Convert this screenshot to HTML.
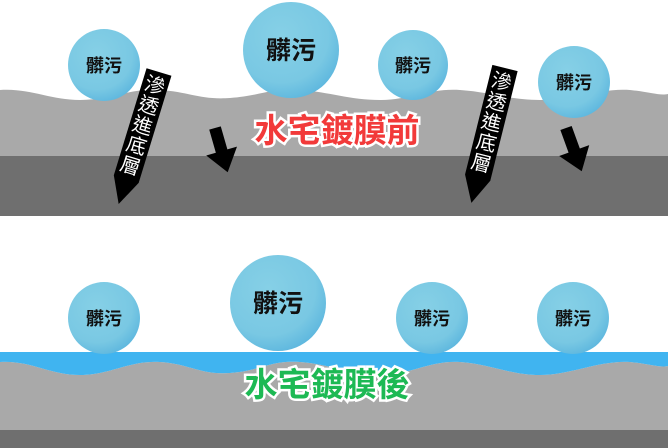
<!DOCTYPE html>
<html><head><meta charset="utf-8"><style>
html,body{margin:0;padding:0;background:#fff;}
svg{display:block;font-family:"Liberation Sans","Noto Sans CJK TC",sans-serif;}
</style></head><body>
<svg width="668" height="448" viewBox="0 0 668 448">
<defs>
<radialGradient id="b" cx="0.4" cy="0.35" r="0.7">
<stop offset="0" stop-color="#86d0e6"/><stop offset="0.7" stop-color="#79c8e3"/><stop offset="1" stop-color="#5cb6de"/>
</radialGradient>
<g id="arr"><polygon points="-6,0 6,0 6,24 16,24 0,46 -16,24 -6,24" fill="#000"/></g>
</defs>
<rect x="0" y="156" width="668" height="60" fill="#6f6f6f"/>
<path d="M0,90 C30,88 50,100 80,100 C110,100 130,88 160,90 C190,92 200,100 230,98 C260,96 270,88 300,90 C330,92 350,100 380,100 C410,100 430,88 460,90 C490,92 510,100 540,100 C570,100 600,88 630,90 C650,92 660,96 668,94 L668,156 L0,156 Z" fill="#a9a9a9"/>
<rect x="0" y="430" width="668" height="18" fill="#6f6f6f"/>
<path d="M0,362 C30,360 50,375 80,375 C110,375 130,360 160,362 C190,364 200,375 230,373 C260,371 270,360 300,362 C330,364 350,375 380,375 C410,375 430,360 460,362 C490,364 510,375 540,375 C570,375 600,360 630,362 C650,364 660,368 668,366 L668,430 L0,430 Z" fill="#a9a9a9"/>
<path d="M0,362 C30,360 50,375 80,375 C110,375 130,360 160,362 C190,364 200,375 230,373 C260,371 270,360 300,362 C330,364 350,375 380,375 C410,375 430,360 460,362 C490,364 510,375 540,375 C570,375 600,360 630,362 C650,364 660,368 668,366 L668,352 L0,352 Z" fill="#40b4f0"/>
<g font-weight="bold" fill="#111" text-anchor="middle">
<circle cx="104" cy="65" r="36" fill="url(#b)"/><text x="104" y="72" font-size="18">髒污</text>
<circle cx="291" cy="50" r="48" fill="url(#b)"/><text x="291" y="59" font-size="25">髒污</text>
<circle cx="413" cy="65" r="35" fill="url(#b)"/><text x="413" y="72" font-size="18">髒污</text>
<circle cx="574" cy="82" r="36" fill="url(#b)"/><text x="574" y="89" font-size="18">髒污</text>
<circle cx="104" cy="318" r="36" fill="url(#b)"/><text x="104" y="325" font-size="18">髒污</text>
<circle cx="278" cy="303" r="48" fill="url(#b)"/><text x="278" y="312" font-size="25">髒污</text>
<circle cx="432" cy="318" r="36" fill="url(#b)"/><text x="432" y="325" font-size="18">髒污</text>
<circle cx="573" cy="318" r="36" fill="url(#b)"/><text x="573" y="325" font-size="18">髒污</text>
</g>
<g transform="translate(159,72) rotate(17)">
<polygon points="-13,0 13,0 13,112 0,138 -13,112" fill="#000"/>
<g fill="#fff" font-size="20" text-anchor="middle"><text x="0" y="21">滲</text><text x="0" y="42">透</text><text x="0" y="63">進</text><text x="0" y="84">底</text><text x="0" y="105">層</text></g>
</g>
<g transform="translate(505,68) rotate(14)">
<polygon points="-13,0 13,0 13,113 0,139 -13,113" fill="#000"/>
<g fill="#fff" font-size="20" text-anchor="middle"><text x="0" y="21">滲</text><text x="0" y="42">透</text><text x="0" y="63">進</text><text x="0" y="84">底</text><text x="0" y="105">層</text></g>
</g>
<use href="#arr" transform="translate(215,128) rotate(-16)"/>
<use href="#arr" transform="translate(566,128) rotate(-20)"/>
<g font-weight="bold" font-size="33" text-anchor="middle" stroke="#fff" stroke-width="5" paint-order="stroke">
<text x="337" y="142" fill="#f23a3a">水宅鍍膜前</text>
<text x="327" y="396" fill="#1db954">水宅鍍膜後</text>
</g>
</svg>
</body></html>
